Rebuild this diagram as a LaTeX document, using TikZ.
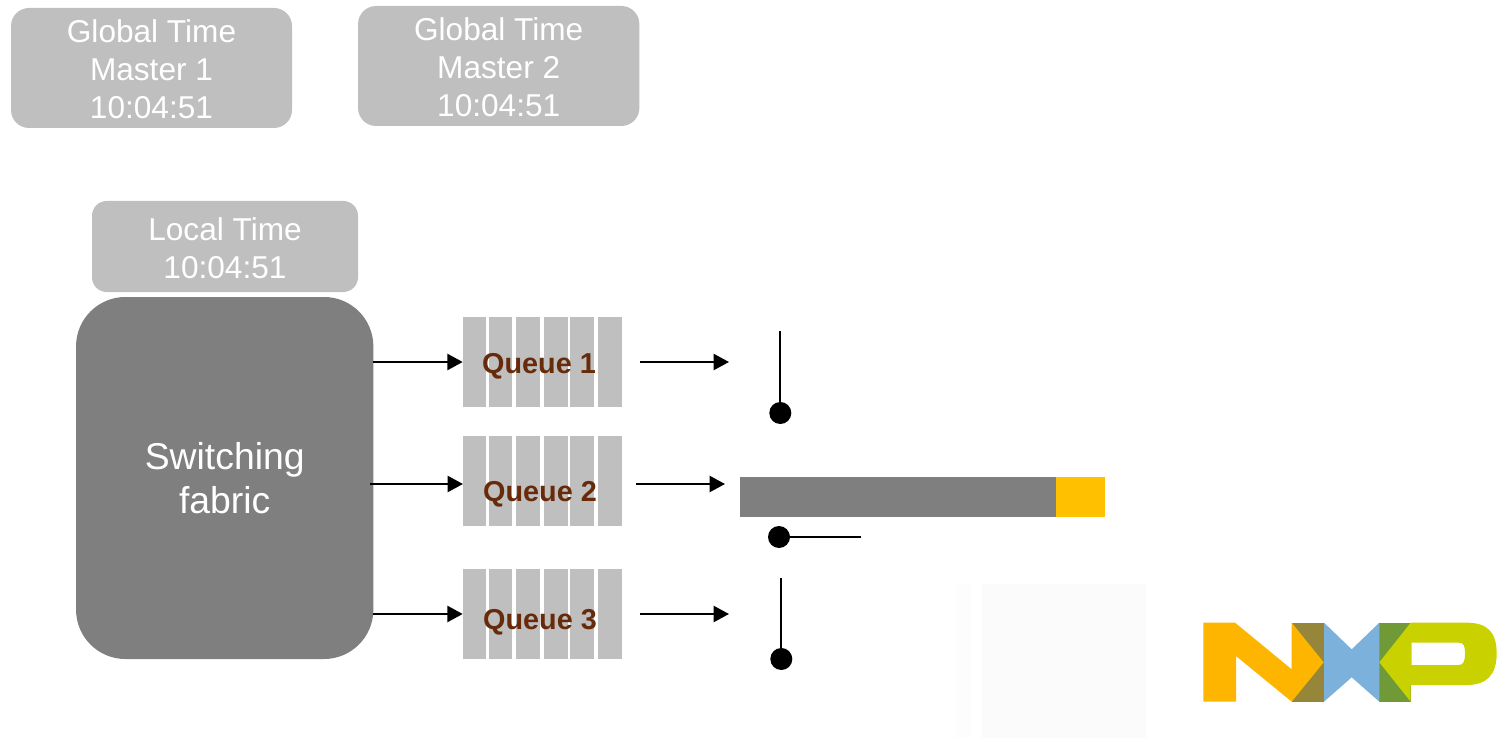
\documentclass[tikz,border=0pt]{standalone}
\usepackage{fontspec}
\setmainfont{Liberation Sans}
\usetikzlibrary{arrows.meta}
\definecolor{lightgrey}{HTML}{BFBFBF}
\definecolor{darkgrey}{HTML}{7F7F7F}
\definecolor{qtext}{HTML}{672B0B}
\definecolor{amberbar}{HTML}{FFC000}
\definecolor{nxpyellow}{HTML}{FDB500}
\definecolor{nxpbrown}{HTML}{958639}
\definecolor{nxpblue}{HTML}{7BB1DB}
\definecolor{nxpgreen}{HTML}{6F9A37}
\definecolor{nxplime}{HTML}{C9D200}
\definecolor{faintA}{HTML}{FDFDFD}
\definecolor{faintB}{HTML}{FBFBFB}
\tikzset{
  x=0.75pt,y=-0.75pt,
  greybox/.style={fill=lightgrey,draw=none,rounded corners=13.5pt,inner sep=0pt,text=white,align=center,
    font=\fontsize{23.7pt}{28.5pt}\selectfont},
  fabricbox/.style={fill=darkgrey,draw=none,rounded corners=37pt,inner sep=0pt,text=white,align=center,
    minimum width=223pt,minimum height=271.5pt,font=\fontsize{28pt}{32.5pt}\selectfont},
  slot/.style={fill=lightgrey,draw=none,inner sep=0pt,minimum height=67.5pt},
  qlabel/.style={text=qtext,inner sep=0pt,font=\fontsize{21.6pt}{25pt}\selectfont\bfseries},
  conn/.style={draw=black,line width=1.7pt,-{Triangle[length=11.5pt,width=12pt]},shorten >=0pt},
  gateline/.style={draw=black,line width=1.5pt},
  gatedot/.style={circle,fill=black,draw=none,inner sep=0pt,minimum size=16.5pt},
  barpart/.style={draw=none,inner sep=0pt,minimum height=30pt},
}
\begin{document}
\begin{tikzpicture}
\useasboundingbox (0,0) rectangle (1511,738);
% faint patch
\fill[fill=faintA] (956,584) rectangle (971,738);
\fill[fill=faintB] (982,584) rectangle (1146,738);
% time boxes
\node[greybox,minimum width=210.75pt,minimum height=90pt] (gm1) at (151.5,68) {\rule{0pt}{18.8pt}Global Time\\Master 1\\10:04:51};
\node[greybox,minimum width=211pt,minimum height=90pt] (gm2) at (498.7,66) {\rule{0pt}{18.8pt}Global Time\\Master 2\\10:04:51};
\node[greybox,minimum width=199.5pt,minimum height=68.25pt,rounded corners=11pt] (lt) at (225,246.5) {\rule{0pt}{19pt}Local Time\\10:04:51};
\node[fabricbox] (fabric) at (224.7,478) {Switching\\fabric};
% queues
\foreach \q/\yy in {1/362,2/481,3/614}{
  \node[slot,minimum width=17.25pt] (q\q c1) at (474.5,\yy) {};
  \node[slot,minimum width=17.25pt] (q\q c2) at (500.5,\yy) {};
  \node[slot,minimum width=18pt] (q\q c3) at (528,\yy) {};
  \node[slot,minimum width=18pt] (q\q c4) at (556,\yy) {};
  \node[slot,minimum width=18pt] (q\q c5) at (582,\yy) {};
  \node[slot,minimum width=18pt] (q\q c6) at (610,\yy) {};
}
\node[qlabel] (l1) at (539,366) {Queue 1};
\node[qlabel] (l2) at (540,494.5) {Queue 2};
\node[qlabel] (l3) at (540,622.5) {Queue 3};
% input arrows
\coordinate (in1) at (373,362);
\coordinate (in2) at (370,484);
\coordinate (in3) at (373,614);
\coordinate (t2) at (463,484);
\draw[conn] (in1) -- (q1c1.west);
\draw[conn] (in2) -- (t2);
\draw[conn] (in3) -- (q3c1.west);
% output arrows
\coordinate (o1s) at (640,362);
\coordinate (o1e) at (729,362);
\coordinate (o2s) at (636,484);
\coordinate (o2e) at (725,484);
\coordinate (o3s) at (640,614);
\coordinate (o3e) at (729,614);
\draw[conn] (o1s) -- (o1e);
\draw[conn] (o2s) -- (o2e);
\draw[conn] (o3s) -- (o3e);
% gates
\node[gatedot] (d1) at (780.3,413) {};
\node[gatedot] (d2) at (779,537) {};
\node[gatedot] (d3) at (781.3,659) {};
\coordinate (g1) at (780.3,331);
\coordinate (g2) at (861,537);
\coordinate (g3) at (781.3,578);
\draw[gateline] (g1) -- (d1);
\draw[gateline] (g2) -- (d2);
\draw[gateline] (g3) -- (d3);
% frame bar
\node[barpart,fill=darkgrey,minimum width=237pt] (bar) at (898,497) {};
\node[barpart,fill=amberbar,minimum width=36.75pt] (tail) at (1080.5,497) {};
% NXP logo
\begin{scope}[shift={(1180,600)},x=0.25pt,y=-0.25pt]
  \fill[nxpbrown] (335,68) -- (432,68) -- (432,305) -- (335,305) -- cycle;
  \fill[nxpyellow] (70,68) -- (165,68) -- (335,208) -- (335,68) -- (431,187) -- (335,305) -- (168,168) -- (168,305) -- (70,305) -- cycle;
  \fill[nxpgreen] (598,68) -- (692,68) -- (692,305) -- (598,305) -- cycle;
  \fill[nxpblue] (432,68) -- (515,148) -- (598,68) -- (598,305) -- (515,232) -- (432,305) -- cycle;
  \fill[nxplime,even odd rule] (692,68) -- (860,68) .. controls (925,68) and (950,100) .. (950,160)
     .. controls (950,225) and (920,255) .. (860,255) -- (692,255) -- (692,305) -- (598,187) -- cycle
     (695,128) -- (835,128) .. controls (850,128) and (855,135) .. (855,160) .. controls (855,185) and (850,195) .. (835,195) -- (695,195) -- cycle;
\end{scope}
\end{tikzpicture}
\end{document}
